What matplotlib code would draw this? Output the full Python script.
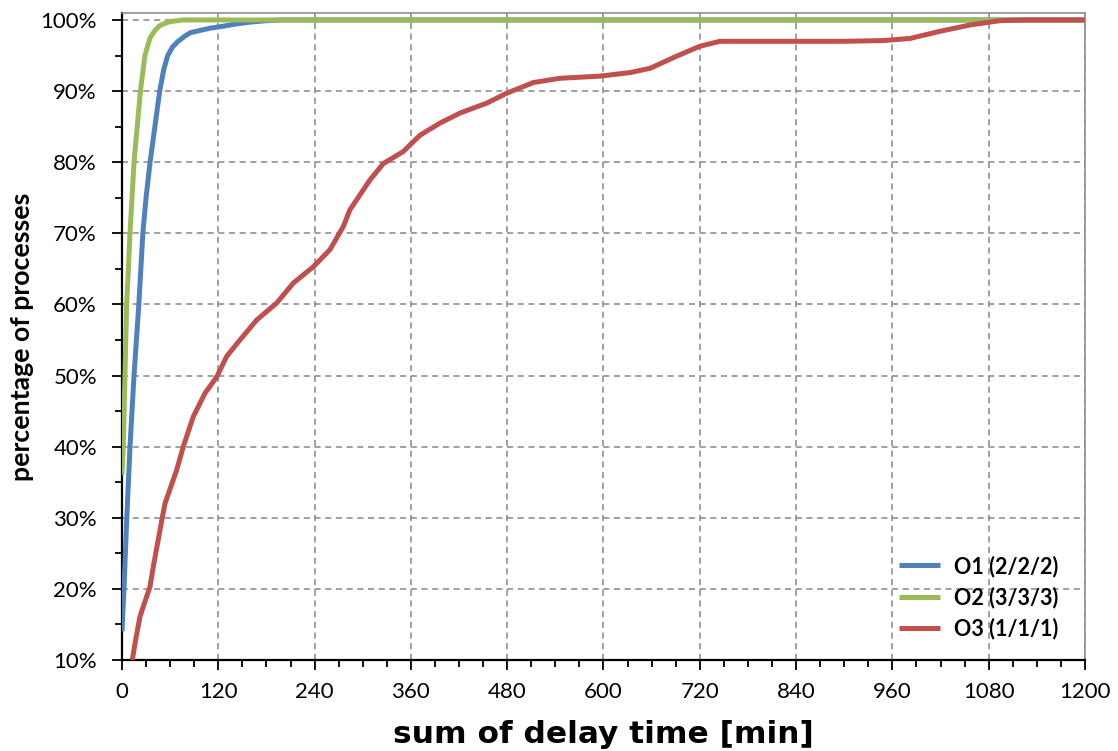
import matplotlib
matplotlib.use("Agg")
import matplotlib.pyplot as plt
from matplotlib.ticker import MultipleLocator, PercentFormatter

plt.rcParams['font.family'] = ['Lato', 'DejaVu Sans']

# cumulative share of processes (%) over summed delay time (min)
o1_minutes = [0, 2.5, 6, 10, 15, 21, 26, 30, 35, 41, 47, 52, 57, 63, 70, 78, 85,
              100, 110, 125, 140, 160, 180, 200, 1200]
o1_share = [14, 20, 30, 40, 50, 60, 70, 75, 80, 85, 90, 93, 95, 96.2, 97, 97.7, 98.2,
            98.6, 98.85, 99.1, 99.4, 99.7, 99.9, 100, 100]

o2_minutes = [0, 1.6, 3.7, 5.8, 8, 10, 12.5, 15, 19, 23, 28.6, 35, 41, 47, 55, 62, 76, 1200]
o2_share = [36, 40, 50, 60, 65, 70, 75, 80, 85, 90, 95, 97.5, 98.5, 99.2, 99.6, 99.8, 100, 100]

o3_minutes = [12.9, 16.2, 22.4, 34.9, 39, 47.4, 53.6, 68.1, 76.4, 88.8, 103.4, 118, 130.5,
              147, 167.8, 192.8, 213.5, 238.4, 259.2, 276, 284, 309, 325.6, 350.5, 371.5,
              396.3, 421, 454.4, 479.4, 512.6, 545.8, 595.6, 633, 658, 691, 720, 745, 800,
              900, 948.7, 982, 1019, 1057, 1094, 1125, 1200]
o3_share = [10, 12.3, 16.1, 20.3, 23.1, 28.3, 32.0, 36.7, 40, 44.2, 47.5, 49.8, 52.7,
            55, 57.8, 60.2, 63, 65.3, 67.7, 71.0, 73.3, 77.5, 79.8, 81.5, 83.8,
            85.5, 86.9, 88.3, 89.7, 91.2, 91.8, 92.1, 92.6, 93.2, 94.9, 96.3, 97.0, 97.0,
            97.0, 97.1, 97.4, 98.4, 99.3, 99.9, 100, 100]

series = [
    ("O1 (2/2/2)", o1_minutes, o1_share, "#4F81BD"),
    ("O2 (3/3/3)", o2_minutes, o2_share, "#9BBB59"),
    ("O3 (1/1/1)", o3_minutes, o3_share, "#C0504D"),
]

fig = plt.figure(figsize=(11.18, 7.51), dpi=100)
ax = fig.add_axes([0.1091, 0.1212, 0.8614, 0.8615])

for label, xs, ys, color in series:
    ax.plot(xs, [v / 100 for v in ys], color=color, lw=3.6, label=label,
            solid_joinstyle='round', solid_capstyle='butt', zorder=3)

ax.set_xlim(0, 1200)
ax.set_ylim(0.10, 1.0098)
ax.xaxis.set_major_locator(MultipleLocator(120))
ax.xaxis.set_minor_locator(MultipleLocator(30))
ax.yaxis.set_major_locator(MultipleLocator(0.10))
ax.yaxis.set_minor_locator(MultipleLocator(0.05))
ax.yaxis.set_major_formatter(PercentFormatter(1.0, decimals=0))

ax.grid(True, which='major', color='#868686', linestyle=(0, (4, 3)), linewidth=1.1, zorder=0)

for side in ('left', 'bottom'):
    ax.spines[side].set_color('black')
    ax.spines[side].set_linewidth(1.6)
for side in ('top', 'right'):
    ax.spines[side].set_color('#868686')
    ax.spines[side].set_linewidth(1.1)

ax.tick_params(which='major', direction='out', length=7, width=1.3, colors='black',
               labelsize=16)
ax.tick_params(which='minor', direction='out', length=5, width=1.3, colors='black')
ax.tick_params(axis='y', which='major', pad=11)
ax.tick_params(axis='x', which='major', pad=9)

ax.set_xlabel("sum of delay time [min]", fontsize=22.5, fontweight='bold',
              family='DejaVu Sans', labelpad=13)
ax.set_ylabel("percentage of processes", fontsize=19.2, fontweight='bold', labelpad=5)

leg = ax.legend(loc='lower right', frameon=False,
                prop={'weight': 'bold', 'size': 15.5}, handlelength=1.9,
                handletextpad=0.65, labelspacing=0.45, borderaxespad=0,
                bbox_to_anchor=(0.981, 0.018))

fig.savefig("out.png", dpi=100)
